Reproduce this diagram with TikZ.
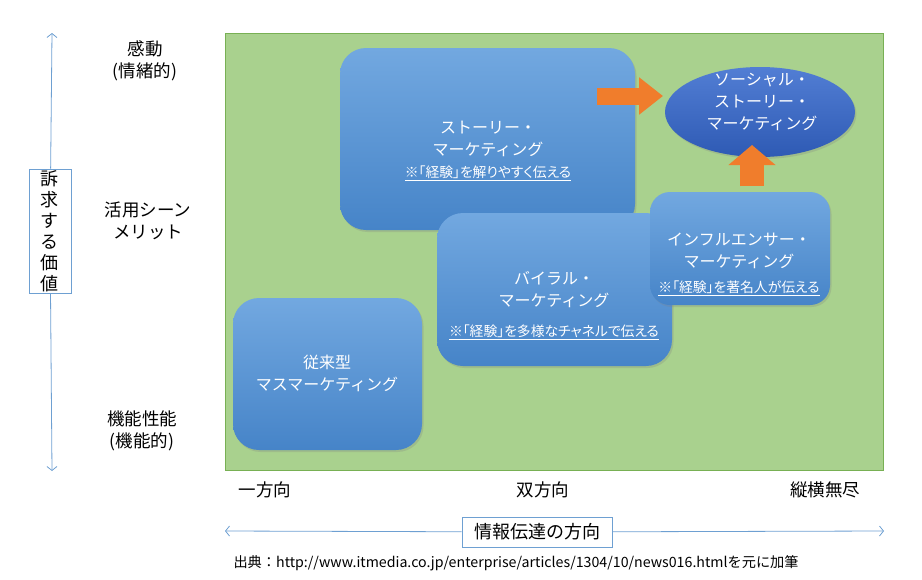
\documentclass[tikz,border=0pt]{standalone}
\usepackage{fontspec}
\setmainfont{Noto Sans CJK JP}
\newfontfamily\pfont[RawFeature=+palt]{Noto Sans CJK JP}
\usetikzlibrary{positioning}
\usetikzlibrary{shapes.geometric}
\usetikzlibrary{arrows.meta}
\usetikzlibrary{shadows}
\definecolor{fieldgreen}{RGB}{169,209,142}
\definecolor{fieldline}{RGB}{120,176,84}
\definecolor{boxtop}{RGB}{114,168,224}
\definecolor{boxbottom}{RGB}{70,132,200}
\definecolor{ovaltop}{RGB}{82,126,212}
\definecolor{ovalbottom}{RGB}{46,90,180}
\definecolor{axisblue}{RGB}{110,160,210}
\definecolor{arroworange}{RGB}{240,125,44}
\tikzset{field/.style={draw=fieldline,fill=fieldgreen,inner sep=0pt}}
\tikzset{box/.style={rounded corners=26pt,top color=boxtop,bottom color=boxbottom,inner sep=0pt,
    drop shadow={opacity=0.25,shadow xshift=1.5pt,shadow yshift=-2pt}}}
\tikzset{oval/.style={ellipse,top color=ovaltop,bottom color=ovalbottom,inner sep=0pt,
    drop shadow={opacity=0.25,shadow xshift=1.5pt,shadow yshift=-2pt}}}
\tikzset{boxtext/.style={text=white,align=center,font=\fontsize{16}{22}\selectfont}}
\tikzset{axislabel/.style={align=center,font=\fontsize{17.5}{22}\selectfont}}
\tikzset{axis/.style={draw=axisblue,line width=0.8pt,-{Straight Barb[length=4pt,width=10pt]}}}
\tikzset{axisbox/.style={draw=axisblue,fill=white,line width=0.8pt,inner sep=0pt,align=center,font=\fontsize{18}{21}\selectfont}}
\tikzset{blockarrow/.style={draw=arroworange,line width=17pt,-{Triangle[length=24pt,width=36pt]}}}
\newcommand{\notetxt}[1]{{\pfont\fontsize{13.8}{16}\selectfont\underline{#1}}}

\begin{document}
\begin{tikzpicture}[x=1pt,y=-1pt]
        \useasboundingbox (0,0) rectangle (922,579);
        \node[field,minimum width=658pt,minimum height=437pt] (field) at (554,251.5) {};

        % value axis
        \coordinate (ytop) at (52,33);
        \coordinate (ybot) at (52,471);
        \node[axisbox,minimum width=42pt,minimum height=124pt] (value) at (50,231) {訴\\求\\す\\る\\価\\値};
            \draw[axis] (value) -- (ytop);
            \draw[axis] (value) -- (ybot);
        \node[axislabel] (emotion) at (145,61) {感動\\(情緒的)};
        \node[axislabel] (merit) at (148,221) {活用シーン\\メリット};
        \node[axislabel] (function) at (142,431) {機能性能\\(機能的)};

        % direction axis
        \node[axislabel] (oneway) at (265,490) {一方向};
        \node[axislabel] (twoway) at (543,490) {双方向};
        \node[axislabel] (allway) at (825,490) {縦横無尽};
        \coordinate (xleft) at (225,531);
        \coordinate (xright) at (884,531);
        \node[axisbox,minimum width=150pt,minimum height=30pt] (direction) at (537,532) {情報伝達の方向};
            \draw[axis] (direction) -- (xleft);
            \draw[axis] (direction) -- (xright);
        \node[anchor=west,font=\fontsize{14.2}{16}\selectfont] (source) at (230,563) {出典：http://www.itmedia.co.jp/enterprise/articles/1304/10/news016.htmlを元に加筆};

        % marketing boxes
        \node[box,minimum width=295pt,minimum height=182pt] (story) at (487.5,139) {};
        \node[boxtext] (storytext) at (488,151) {ストーリー・\\マーケティング\\\notetxt{※「経験」を解りやすく伝える}};
        \node[box,minimum width=235pt,minimum height=153pt] (viral) at (554.5,289.5) {};
        \node[boxtext] (viraltext) at (554,306) {バイラル・\\マーケティング\\[8pt]\notetxt{※「経験」を多様なチャネルで伝える}};
        \node[box,rounded corners=20pt,minimum width=180pt,minimum height=113pt] (influ) at (740,248.5) {};
        \node[boxtext] (influtext) at (739,264) {インフルエンサー・\\マーケティング\\[3pt]\notetxt{※「経験」を著名人が伝える}};
        \node[box,minimum width=189pt,minimum height=152pt] (mass) at (327.5,374) {};
        \node[boxtext] (masstext) at (327,373) {従来型\\マスマーケティング};
        \node[oval,minimum width=190pt,minimum height=90pt] (social) at (760,112) {};
        \node[boxtext] (socialtext) at (762,102) {ソーシャル・\\ストーリー・\\マーケティング};

        % orange arrows
        \coordinate (rstart) at (597,96);
        \coordinate (rend) at (663,96);
            \draw[blockarrow] (rstart) -- (rend);
        \coordinate (ustart) at (752,186);
        \coordinate (uend) at (752,145);
            \draw[blockarrow,line width=24pt,-{Triangle[length=20pt,width=46pt]}] (ustart) -- (uend);
    \end{tikzpicture}
\end{document}
